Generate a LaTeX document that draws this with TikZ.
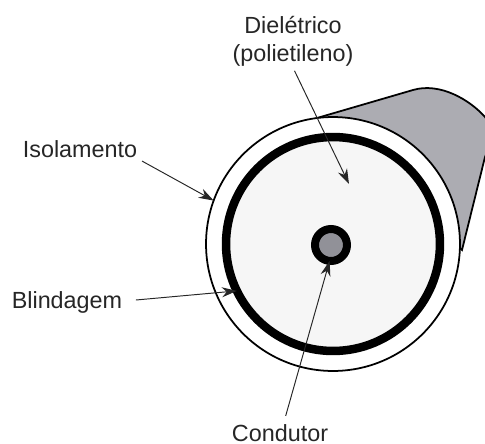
\documentclass[tikz,border=0pt]{standalone}
\usepackage{fontspec}
\setmainfont{Liberation Sans}
\usepackage{tikz}
\usetikzlibrary{arrows.meta}
\definecolor{cabogray}{RGB}{172,172,178}
\definecolor{coregray}{RGB}{145,145,152}
\definecolor{dieleg}{RGB}{246,246,246}
\tikzset{
  >={Stealth[length=3mm,width=2mm]},
  lbl/.style={inner sep=1pt,outer sep=0pt,align=center,text=black!85,font=\fontsize{13.3}{15.8}\selectfont},
  seta/.style={->,line width=0.55pt,black!85},
  disco/.style={circle,draw=black,outer sep=0pt,inner sep=0pt},
}
\begin{document}
\begin{tikzpicture}[x=0.02cm,y=-0.02cm]
\useasboundingbox (0,0) rectangle (485,444);
\begin{scope}
\clip (0,0) rectangle (485,444);
% corpo do cabo
\draw[fill=cabogray,line width=1pt] (317,118) -- (413,90)
  .. controls (440,82) and (470,100) .. (485,117)
  .. controls (495,130) and (492,140) .. (485,157)
  -- (462,250) -- cycle;
\end{scope}
\node[disco,fill=white,line width=1pt,minimum size=5.08cm] (isol) at (333,244){};
\node[disco,fill=dieleg,line width=8.5*0.02cm,minimum size=4.28cm] (blind) at (333,244){};
\node[disco,fill=coregray,line width=8*0.02cm,minimum size=0.64cm] (cond) at (331,245){};
\coordinate (dtip) at (349,184);
\node[lbl] (diel) at (293,41){Dielétrico\\(polietileno)};
\node[lbl] (lisol) at (80,149){Isolamento};
\node[lbl] (lblind) at (67,302){Blindagem};
\node[lbl] (lcond) at (280,433){Condutor};
\draw[seta,shorten <=2pt] (diel.south) -- (dtip);
\draw[seta,shorten <=2pt] (lisol.south east) -- (isol.160);
\draw[seta] (lblind.east) ++(12,-2) -- (blind.206);
\draw[seta,shorten <=4pt] (lcond.70) -- (cond.265);
\end{tikzpicture}
\end{document}
